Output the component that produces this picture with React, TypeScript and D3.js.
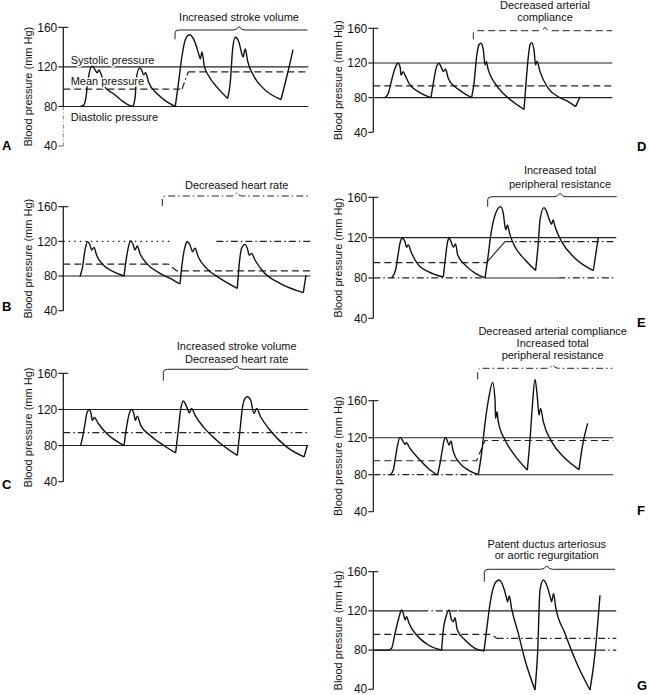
import * as d3 from "d3";

type Pt = [number, number];
type Kind = "solid" | "dash" | "dashdot" | "dot";
type Seg = { kind: Kind; pts: Pt[] };

const yTicks = [40, 80, 120, 160];
const yAxisLabel = "Blood pressure (mm Hg)";
const timeDomain: [number, number] = [0, 245];

// ---- A: increased stroke volume
const beatsA: Pt[][] = [
  [[17, 80], [20, 81], [22.5, 88], [24, 101], [26, 114], [28.7, 121], [31.5, 117.5], [34, 114], [35.7, 117], [38, 112], [42, 99], [50, 93], [58, 86.3], [65, 81.5], [69.7, 80]],
  [[69.7, 80], [72, 91], [73, 108], [76.3, 119], [78.7, 116], [80.3, 112], [82.3, 114], [85.3, 104.5], [93.7, 93], [103.7, 84.6], [112, 80]],
  [[112, 80], [115.3, 104.5], [118.7, 131], [122, 147.5], [126.3, 152.4], [132, 144], [136, 131], [137, 128], [138.7, 135], [141, 121], [145.3, 111], [153.7, 99.5], [164.3, 88]],
  [[164.3, 88], [167, 104.5], [169.3, 137.5], [172, 150], [175.3, 146], [178.7, 132.6], [179.7, 130], [182, 138], [184.3, 126], [190.3, 111], [200.3, 98], [217.7, 87]],
  [[217.7, 87], [223.7, 111], [229.7, 137.5]],
];
const linesA: Seg[] = [
  { kind: "solid", pts: [[0, 120], [245, 120]] },
  { kind: "dash", pts: [[0, 97.5], [118.7, 97.5]] },
  { kind: "dashdot", pts: [[118.7, 97.5], [125, 115]] },
  { kind: "dash", pts: [[125, 115], [245, 115]] },
  { kind: "solid", pts: [[0, 80], [245, 80]] },
];
const titleA = ["Increased stroke volume"];
const braceA = [111.7, 175.7, 244];
const pressureLabelsA = ["Systolic pressure", "Mean pressure", "Diastolic pressure"];

// ---- B: decreased heart rate
const beatsB: Pt[][] = [
  [[16.7, 79.5], [19.3, 90.8], [21.7, 110], [24.3, 119.6], [26.7, 115.8], [28.3, 110], [30.7, 113], [33.3, 104], [40, 92.7], [50, 85], [60.7, 80]],
  [[60.7, 80], [63.3, 102], [66, 117.7], [67.3, 120.8], [70, 115.8], [71.7, 110], [74, 114.6], [76.7, 106], [83.3, 94.6], [96.7, 83], [110, 75.4], [116.7, 70.8]],
  [[116.7, 70.8], [119.3, 98.5], [121.7, 114], [124, 119.6], [126.7, 115.8], [129.3, 108], [131.7, 112], [135, 102], [143.3, 88.8], [156.7, 77.3], [174, 65.8]],
  [[174, 65.8], [176, 94.6], [178.3, 112], [181.7, 116.5], [184, 112], [186, 104], [188.3, 106], [191.7, 98.5], [200, 85], [216.7, 71.5], [240, 60.8]],
  [[240, 60.8], [242.7, 81]],
];
const linesB: Seg[] = [
  { kind: "dot", pts: [[0, 120], [107, 120]] },
  { kind: "dashdot", pts: [[153, 120], [247, 120]] },
  { kind: "dash", pts: [[0, 93.8], [105, 93.8], [113.3, 86], [247, 86]] },
  { kind: "solid", pts: [[0, 80], [247, 80]] },
];
const titleB = ["Decreased heart rate"];
const braceB = [99, 173.4, 246.7];

// ---- C: increased stroke volume + decreased heart rate
const beatsC: Pt[][] = [
  [[17.3, 80], [20, 93.3], [21.7, 104.4], [24, 117.4], [26, 120], [27.7, 115.6], [29, 108], [31, 111], [35, 104.4], [43.3, 93.3], [51.7, 86], [60.7, 80]],
  [[60.7, 80], [63.3, 100.7], [66, 115.6], [68.3, 120], [70.7, 114.8], [72, 108], [74, 112.6], [77.3, 102.6], [86.7, 91.5], [100, 80.4], [112.3, 71.9]],
  [[112.3, 71.9], [115, 97], [117.3, 119.3], [120, 129.3], [122.7, 124.8], [126, 116.3], [128.3, 121], [131.7, 113.7], [140, 100.7], [153.3, 86], [174, 69.2]],
  [[174, 69.2], [176.7, 97], [179.3, 123], [181.7, 132.2], [184, 134], [187.3, 130.4], [190.7, 115.6], [193.3, 121], [197.3, 111.9], [206.7, 97], [223.3, 78.5], [240.7, 67.4]],
  [[240.7, 67.4], [244, 80]],
];
const linesC: Seg[] = [
  { kind: "solid", pts: [[0, 120], [245, 120]] },
  { kind: "dashdot", pts: [[0, 94.4], [245, 94.4]] },
  { kind: "solid", pts: [[0, 80], [245, 80]] },
];
const titleC = ["Increased stroke volume", "Decreased heart rate"];
const braceC = [100, 173.4, 244.7];

// ---- D: decreased arterial compliance
const beatsD: Pt[][] = [
  [[11.7, 80], [15, 85], [18.3, 100], [21.7, 114], [25, 119.6], [27, 114], [27.7, 106], [30, 110], [31.7, 106], [36.7, 94.6], [45, 87], [57.7, 80]],
  [[57.7, 80], [60, 96.5], [63.3, 116], [65.7, 119.6], [68.3, 114], [70, 110], [72.3, 112.7], [75, 102], [81.7, 92.7], [88.3, 87], [98.3, 80]],
  [[98.3, 80], [100.7, 96.5], [103.3, 127], [105.7, 141], [107.7, 142.7], [110, 135], [111.7, 117.7], [113, 121.5], [115, 112], [121.7, 96.5], [131.7, 83], [141.7, 73.5], [150.7, 66.5]],
  [[150.7, 66.5], [152.7, 96.5], [155, 127], [156.7, 141], [158.3, 143.5], [160.7, 135], [162.3, 117.7], [163.7, 122], [166.7, 110], [175, 90.8], [185, 81], [195, 75.4], [202.3, 69.6]],
  [[202.3, 69.6], [206.7, 81]],
];
const linesD: Seg[] = [
  { kind: "solid", pts: [[0, 120], [239, 120]] },
  { kind: "dash", pts: [[0, 93.5], [239, 93.5]] },
  { kind: "solid", pts: [[0, 80], [239, 80]] },
];
const titleD = ["Decreased arterial", "compliance"];
const braceD = [100, 171.7, 238.7];

// ---- E: increased total peripheral resistance
const beatsE: Pt[][] = [
  [[18.3, 80], [22.3, 88], [25, 104.6], [26.7, 114.5], [29, 119.4], [31.7, 116], [33.3, 110.5], [35, 112.8], [37.7, 106], [45, 93], [55, 86.4], [70, 81]],
  [[70, 81], [72.3, 101.3], [74.3, 116], [76, 119.4], [78.3, 114.5], [80, 110.5], [82.3, 113.8], [84.3, 103], [91.7, 93], [101.7, 84.8], [111.7, 80]],
  [[111.7, 80], [114.3, 98], [118.3, 127.7], [122.3, 144], [127.3, 150.8], [130, 144], [131.7, 131], [132.7, 127.7], [134, 132.6], [136.7, 122.7], [141.7, 111], [151.7, 98], [162.3, 87.4]],
  [[162.3, 87.4], [165, 114.5], [166.7, 137.6], [170.7, 149.8], [173.3, 145.8], [176.7, 136], [178.3, 133.3], [179.7, 137.6], [181.7, 131], [188.3, 116], [201.7, 99.6], [220, 87.4]],
  [[220, 87.4], [225, 120]],
];
const linesE: Seg[] = [
  { kind: "solid", pts: [[0, 120], [243, 120]] },
  { kind: "dash", pts: [[0, 95.3], [113.3, 95.3]] },
  { kind: "solid", pts: [[113.3, 95.3], [131.7, 116]] },
  { kind: "dashdot", pts: [[131.7, 116], [243, 116]] },
  { kind: "dashdot", pts: [[0, 80], [111.7, 80]] },
  { kind: "solid", pts: [[111.7, 80], [185, 80]] },
  { kind: "dashdot", pts: [[185, 80], [243, 80]] },
];
const titleE = ["Increased total", "peripheral resistance"];
const braceE = [114.4, 186.7, 243.4];

// ---- F: decreased compliance + increased resistance
const beatsF: Pt[][] = [
  [[16.7, 79.5], [20, 85], [22.3, 99.5], [24.3, 112], [26.7, 120.4], [30, 115.7], [31.7, 112.8], [33, 114.6], [36.7, 108.5], [45, 97.7], [55, 86.8], [64.3, 79.5]],
  [[64.3, 79.5], [66.7, 92.2], [69, 106.7], [71, 118.2], [72.3, 120.4], [74.3, 115.7], [75.7, 112], [77.7, 116.4], [80, 104.9], [86.7, 92.3], [95, 85], [105, 80]],
  [[105, 80], [108.3, 103], [111.7, 135.5], [115.7, 164.3], [119.3, 179.8], [121.7, 160.7], [122.3, 140.9], [123.7, 148], [125, 137.3], [131.7, 117.5], [140, 103], [154, 85]],
  [[154, 85], [156.7, 117.5], [159, 153.5], [161.7, 183], [164, 164.3], [165.7, 144.5], [167.3, 151.7], [170, 137.3], [178.3, 115.7], [191.7, 97.7], [205.7, 85.5]],
  [[205.7, 85.5], [209, 110], [214.3, 135.5]],
];
const linesF: Seg[] = [
  { kind: "solid", pts: [[0, 120], [240, 120]] },
  { kind: "dash", pts: [[0, 95.1], [103.3, 95.1], [111.7, 117], [240, 117]] },
  { kind: "dashdot", pts: [[0, 80], [105, 80]] },
  { kind: "solid", pts: [[105, 80], [240, 80]] },
];
const titleF = ["Decreased arterial compliance", "Increased total", "peripheral resistance"];
const braceF = [104.4, 179.4, 239];

// ---- G: patent ductus arteriosus / aortic regurgitation
const beatsG: Pt[][] = [
  [[0, 80], [15, 80], [18.3, 81.8], [21.7, 97], [25, 110.7], [28.3, 120.9], [30.7, 114.8], [31.7, 110.7], [33.3, 114], [35.7, 107.3], [43.3, 95.4], [55, 85.2], [68.3, 80]],
  [[68.3, 80], [70, 100.5], [72.7, 114], [75.7, 120.9], [78.3, 110.7], [80, 109], [81.7, 113], [84, 100.5], [91.7, 90.3], [101.7, 81.8], [110.7, 79]],
  [[110.7, 79], [113.3, 100.5], [117.3, 131], [121.7, 148], [125.7, 151.5], [130, 144.7], [133.3, 132.8], [134.3, 129.4], [136, 135.2], [138.3, 122.6], [145, 97], [151.7, 69.9], [161.7, 39.3]],
  [[161.7, 39.3], [164.3, 76.7], [166.7, 141.3], [170, 151.5], [174, 144.7], [177.3, 132.8], [178.3, 129.4], [180.3, 137.9], [182.3, 124.3], [191.7, 97], [205, 63], [216.7, 39.3]],
  [[216.7, 39.3], [221.7, 76.7], [226.7, 136]],
];
const linesG: Seg[] = [
  { kind: "solid", pts: [[0, 120], [48, 120]] },
  { kind: "dashdot", pts: [[48, 120], [85, 120]] },
  { kind: "solid", pts: [[85, 120], [243, 120]] },
  { kind: "dash", pts: [[0, 96], [118.3, 96], [123.3, 92]] },
  { kind: "dashdot", pts: [[123.3, 92], [243, 92]] },
  { kind: "solid", pts: [[0, 80], [225, 80]] },
  { kind: "dashdot", pts: [[225, 80], [243, 80]] },
];
const titleG = ["Patent ductus arteriosus", "or aortic regurgitation"];
const braceG = [111, 173.4, 241.7];

const dashes: Record<Kind, string | undefined> = {
  solid: undefined,
  dash: "7 4",
  dashdot: "7 3 1.5 3",
  dot: "1.5 4",
};

const font = "'Liberation Sans', Arial, Helvetica, sans-serif";

const panels = [
  { letter: "A", beats: beatsA, lines: linesA, title: titleA, brace: braceA, braceKind: "solid" as Kind, axisX: 63.3, y160: 27.3, y40: 146, braceY: 30, hookY: 39.3, titleBase: [20.7], letterX: 2, letterY: 150, lowAxisFaint: true },
  { letter: "B", beats: beatsB, lines: linesB, title: titleB, brace: braceB, braceKind: "dashdot" as Kind, axisX: 63.3, y160: 206.7, y40: 310.7, braceY: 196, hookY: 206, titleBase: [189], letterX: 2, letterY: 311 },
  { letter: "C", beats: beatsC, lines: linesC, title: titleC, brace: braceC, braceKind: "solid" as Kind, axisX: 63.3, y160: 373.3, y40: 481.7, braceY: 369.3, hookY: 380.7, titleBase: [350, 362.5], letterX: 2, letterY: 488.5 },
  { letter: "D", beats: beatsD, lines: linesD, title: titleD, brace: braceD, braceKind: "dash" as Kind, axisX: 373.3, y160: 28.3, y40: 132.3, braceY: 30.7, hookY: 39.3, titleBase: [9, 21], letterX: 637, letterY: 151 },
  { letter: "E", beats: beatsE, lines: linesE, title: titleE, brace: braceE, braceKind: "solid" as Kind, axisX: 373.3, y160: 197.3, y40: 318.3, braceY: 196.7, hookY: 206.7, titleBase: [174, 187.5], letterX: 637, letterY: 327 },
  { letter: "F", beats: beatsF, lines: linesF, title: titleF, brace: braceF, braceKind: "dashdot" as Kind, axisX: 373.3, y160: 400.7, y40: 511.7, braceY: 368.3, hookY: 379.3, titleBase: [334.5, 346.5, 359.3], letterX: 637, letterY: 514.5 },
  { letter: "G", beats: beatsG, lines: linesG, title: titleG, brace: braceG, braceKind: "solid" as Kind, axisX: 373.3, y160: 571.7, y40: 689.3, braceY: 569.3, hookY: 581.7, titleBase: [547.5, 559], letterX: 637, letterY: 689.5 },
];

type PanelDef = (typeof panels)[number] & { lowAxisFaint?: boolean };

function Panel({ p }: { p: PanelDef }) {
  const x = d3.scaleLinear().domain(timeDomain).range([p.axisX, p.axisX + 245]);
  const y = d3.scaleLinear().domain([40, 160]).range([p.y40, p.y160]);
  const wave = d3.line<Pt>().x((d) => x(d[0])).y((d) => y(d[1])).curve(d3.curveMonotoneX);
  const straight = d3.line<Pt>().x((d) => x(d[0])).y((d) => y(d[1]));

  const [b0, bm, b1] = p.brace.map((t) => x(t));
  const yb = p.braceY;
  const bracePath =
    `M${b0},${p.hookY} L${b0},${yb + 3} Q${b0},${yb} ${b0 + 4},${yb} ` +
    `L${bm - 6},${yb} Q${bm - 2},${yb} ${bm},${yb - 3.5} Q${bm + 2},${yb} ${bm + 6},${yb} L${b1},${yb}`;

  const midY = (p.y40 + p.y160) / 2;

  return (
    <g>
      {/* axis */}
      {p.lowAxisFaint ? (
        <>
          <line x1={p.axisX} x2={p.axisX} y1={y(160)} y2={y(80)} stroke="#111" strokeWidth={1.2} />
          <line x1={p.axisX} x2={p.axisX} y1={y(80)} y2={y(40)} stroke="#777" strokeWidth={0.9} strokeDasharray="4 2 1 2" />
        </>
      ) : (
        <line x1={p.axisX} x2={p.axisX} y1={y(160)} y2={y(40)} stroke="#111" strokeWidth={1.2} />
      )}
      {yTicks.map((v) => (
        <g key={v}>
          <line
            x1={p.axisX - 5}
            x2={v === 160 ? p.axisX + 5 : p.axisX}
            y1={y(v)}
            y2={y(v)}
            stroke={p.lowAxisFaint && v === 40 ? "#777" : "#111"}
            strokeWidth={1.1}
          />
          <text
            x={p.axisX - 6}
            y={Math.min(y(v) + 4.3, 692.5)}
            textAnchor="end"
            fontSize={12}
            fontFamily={font}
            fill="#111"
          >
            {v}
          </text>
        </g>
      ))}
      <text
        transform={`translate(${p.axisX - 31},${midY}) rotate(-90)`}
        textAnchor="middle"
        fontSize={11}
        fontFamily={font}
        fill="#111"
      >
        {yAxisLabel}
      </text>

      {/* reference pressure lines */}
      {p.lines.map((s, i) => (
        <path
          key={i}
          d={straight(s.pts) ?? ""}
          fill="none"
          stroke="#222"
          strokeWidth={s.kind === "solid" ? 1.1 : 1.2}
          strokeDasharray={dashes[s.kind]}
        />
      ))}

      {/* pressure waveform */}
      {p.beats.map((b, i) => (
        <path key={i} d={wave(b) ?? ""} fill="none" stroke="#111" strokeWidth={1.4} strokeLinejoin="round" />
      ))}

      {/* intervention brace + title */}
      <path d={bracePath} fill="none" stroke="#222" strokeWidth={1} strokeDasharray={dashes[p.braceKind]} />
      {p.title.map((t, i) => (
        <text key={i} x={bm} y={p.titleBase[i]} textAnchor="middle" fontSize={11} fontFamily={font} fill="#111">
          {t}
        </text>
      ))}

      <text x={p.letterX} y={p.letterY} fontSize={13} fontWeight="bold" fontFamily={font} fill="#000">
        {p.letter}
      </text>
    </g>
  );
}

export default function App() {
  const pa = panels[0];
  const labelX = pa.axisX + 7.4;
  const labelBases = [64, 85, 121];
  return (
    <svg
      width={650}
      height={695}
      viewBox="0 0 650 695"
      style={{ position: "absolute", left: 0, top: 0, background: "#fff" }}
    >
      <rect width={650} height={695} fill="#fff" />
      {panels.map((p) => (
        <Panel key={p.letter} p={p} />
      ))}
      {pressureLabelsA.map((t, i) => (
        <text
          key={t}
          x={labelX}
          y={labelBases[i]}
          fontSize={11}
          fontFamily={font}
          fill="#111"
          stroke="#fff"
          strokeWidth={3}
          paintOrder="stroke"
          strokeLinejoin="round"
        >
          {t}
        </text>
      ))}
    </svg>
  );
}
